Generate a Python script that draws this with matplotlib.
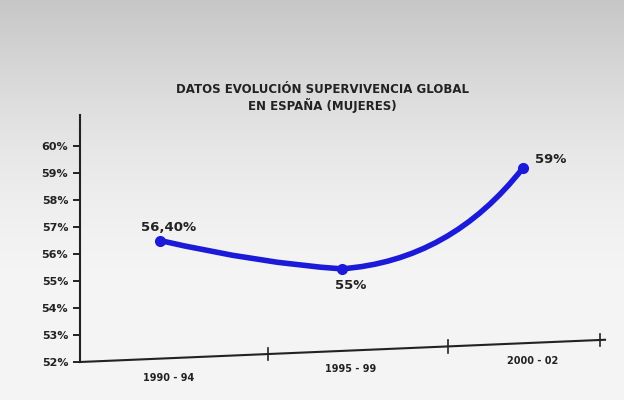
import numpy as np
import matplotlib.pyplot as plt
from matplotlib.path import Path
from matplotlib.patches import PathPatch

categories = ["1990 - 94", "1995 - 99", "2000 - 02"]
values = [56.5, 55.45, 59.2]
point_labels = ["56,40%", "55%", "59%"]
yticks = [52, 53, 54, 55, 56, 57, 58, 59, 60]

W, H = 624, 400
fig = plt.figure(figsize=(W/100, H/100), dpi=100)
bg = fig.add_axes([0, 0, 1, 1])
g = np.linspace(0, 1, 200)[:, None]
col = 0.78 + 0.18*np.sin(np.clip(g*1.3, 0, 1)*np.pi/2)
bg.imshow(np.dstack([col, col, col]), aspect='auto', extent=[0, 1, 0, 1])
bg.axis('off')

fig.text(322/W, 1-98/H, "DATOS EVOLUCIÓN SUPERVIVENCIA GLOBAL\nEN ESPAÑA (MUJERES)",
         ha='center', va='center', fontsize=8.5, fontweight='bold', color='#222222', linespacing=1.2)

ax = fig.add_axes([80/W, 1-362/H, (605-80)/W, (362-115)/H])
ax.patch.set_alpha(0)
ax.set_ylim(52, 52 + (362-115)/27)
ax.set_xlim(-0.44, 2.45)
for s in ['top', 'right', 'bottom']:
    ax.spines[s].set_visible(False)
ax.spines['left'].set_linewidth(1.5)
ax.spines['left'].set_color('#222222')
ax.set_yticks(yticks)
ax.set_yticklabels([f"{v}%" for v in yticks], fontsize=8, fontweight='bold', color='#222222')
ax.tick_params(axis='y', length=5, width=1.2)
ax.set_xticks([])

# tilted x axis
ax.plot([0, 1], [0, 0.09], transform=ax.transAxes, color='#222222', lw=1.5, clip_on=False)
for fx in [(268-80)/525, (448-80)/525, (600-80)/525]:
    fy = 0.09*fx
    ax.plot([fx, fx], [fy-0.025, fy+0.025], transform=ax.transAxes, color='#222222', lw=1.2, clip_on=False)
for i, c in enumerate(categories):
    ax.text(i + 0.05, 52 - 0.4 + i*0.32, c, ha='center', va='top',
            fontsize=7, fontweight='bold', color='#222222')

# smooth curve
x = np.arange(len(values))
y = np.array(values, float)
verts = [(x[0], y[0]), (0.55, y[0]-0.85), (x[1], y[1]), (1.6, y[1]+0.3), (x[2], y[2])]
codes = [Path.MOVETO, Path.CURVE3, Path.CURVE3, Path.CURVE3, Path.CURVE3]
ax.add_patch(PathPatch(Path(verts, codes), fill=False, ec='#1a1ad8', lw=4))
ax.plot(x, y, 'o', color='#1a1ad8', ms=7)
offs = [(0.05, 0.5), (0.05, -0.6), (0.15, 0.3)]
for i, t in enumerate(point_labels):
    ax.text(x[i] + offs[i][0], y[i] + offs[i][1], t, ha='center', va='center',
            fontsize=9.5, fontweight='bold', color='#222222')

fig.savefig("out.png", dpi=100)
